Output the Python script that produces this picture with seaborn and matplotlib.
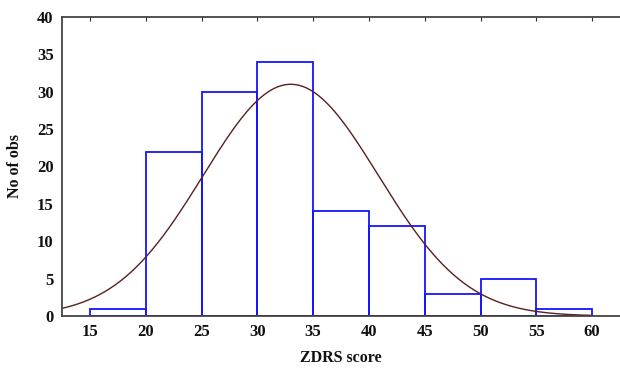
import matplotlib
matplotlib.use("Agg")
import matplotlib.pyplot as plt
import numpy as np
import seaborn as sns

# Histogram of ZDRS scores with fitted normal curve
bin_edges = [15, 20, 25, 30, 35, 40, 45, 50, 55, 60]
counts = [1, 22, 30, 34, 14, 12, 3, 5, 1]
fit_mean = 33.0
fit_sd = 7.85
x_ticks = [15, 20, 25, 30, 35, 40, 45, 50, 55, 60]
y_ticks = [0, 5, 10, 15, 20, 25, 30, 35, 40]

sns.set_style("white")
plt.rcParams['font.family'] = ['Liberation Serif', 'DejaVu Serif']
plt.rcParams['font.weight'] = 'bold'

mids = [(a + b) / 2 for a, b in zip(bin_edges[:-1], bin_edges[1:])]

fig = plt.figure(figsize=(6.2, 3.68), dpi=100)
ax = fig.add_axes([62 / 620, 52 / 368, 558 / 620, 299 / 368])

sns.histplot(x=mids, weights=counts, bins=bin_edges, fill=False,
             color='#1515ff', linewidth=1.3, ax=ax)

# normal curve scaled to counts
n = sum(counts)
width = bin_edges[1] - bin_edges[0]
xs = np.linspace(12.5, 60, 300)
ys = n * width / (fit_sd * np.sqrt(2 * np.pi)) * np.exp(-0.5 * ((xs - fit_mean) / fit_sd) ** 2)
sns.lineplot(x=xs, y=ys, color='#5a1f1f', linewidth=1.0, ax=ax)

ax.set_xlim(12.5, 62.5)
ax.set_ylim(0, 40)
ax.set_xticks(x_ticks)
ax.set_yticks(y_ticks)
ax.tick_params(axis='both', labelsize=12, length=0, pad=6, labelcolor='#111111')
ax.tick_params(axis='x', top=True, bottom=False, direction='in', length=3, color='#333333')
for lab in ax.get_xticklabels() + ax.get_yticklabels():
    lab.set_fontweight('bold')

for s in ['left', 'top', 'bottom']:
    ax.spines[s].set_color('#444444')
    ax.spines[s].set_linewidth(1.3)
ax.spines['right'].set_visible(False)

ax.set_xlabel('ZDRS score', fontsize=11.5, fontweight='bold', labelpad=7, color='#111111')
ax.set_ylabel('No of obs', fontsize=11.5, fontweight='bold', labelpad=10, color='#111111')

plt.savefig('out.png', dpi=100)
